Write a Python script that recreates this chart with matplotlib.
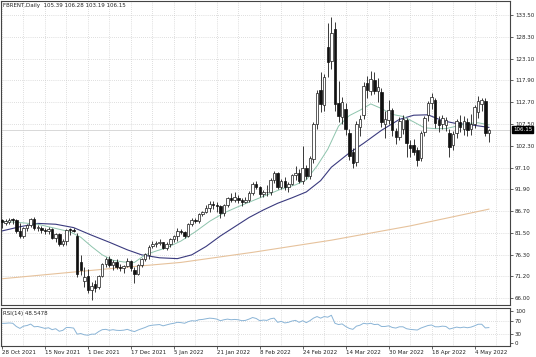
import numpy as np
import matplotlib
matplotlib.use("Agg")
import matplotlib.pyplot as plt
import matplotlib.transforms as mtransforms

# FBRENT daily bars, 28 Oct 2021 .. 10 May 2022
opens = [84.6, 84.0, 84.1, 84.7, 84.5, 81.9, 80.8, 82.8, 83.4, 84.8,
         82.6, 82.8, 82.2, 82.0, 82.4, 80.3, 81.2, 78.9, 79.7, 82.3,
         82.2, 80.8, 74.6, 70.0, 71.2, 67.8, 69.3, 68.6, 71.3, 74.0,
         75.2, 73.8, 74.6, 73.4, 73.2, 73.6, 74.8, 72.6, 71.8, 73.9,
         75.2, 76.3, 78.3, 78.9, 79.2, 79.3, 77.9, 78.9, 80.0, 80.8,
         82.0, 81.7, 80.9, 83.7, 84.7, 84.4, 86.1, 86.5, 87.5, 88.4,
         88.3, 87.9, 86.3, 88.2, 89.9, 89.3, 89.9, 89.4, 89.0, 89.4,
         91.0, 93.2, 92.6, 90.7, 91.4, 91.2, 94.2, 95.9, 92.6, 94.0,
         92.4, 93.1, 95.3, 95.9, 94.0, 97.0, 95.0, 99.2, 107.5, 115.5,
         112.0, 125.9, 122.6, 130.2, 112.4, 109.2, 111.0, 105.4, 100.8, 98.4,
         106.9, 109.6, 117.2, 115.4, 118.0, 115.4, 115.2, 107.4, 108.4, 110.8,
         105.8, 104.4, 106.2, 108.4, 102.6, 102.5, 101.3, 99.5, 105.5, 109.6,
         112.5, 113.3, 108.4, 107.4, 107.2, 105.4, 102.4, 105.4, 108.1, 106.4,
         108.1, 106.4, 107.6, 110.4, 112.2, 113.0, 105.39]
highs = [84.9, 84.8, 85.1, 85.0, 84.9, 83.9, 83.0, 83.7, 85.1, 85.3,
         83.3, 83.2, 82.8, 82.9, 82.6, 81.6, 81.5, 80.0, 82.5, 82.6,
         82.7, 81.5, 76.2, 73.5, 73.0, 69.8, 70.2, 71.5, 74.3, 75.8,
         76.0, 75.0, 75.2, 74.2, 73.9, 75.5, 75.0, 73.4, 74.1, 75.5,
         76.8, 78.6, 79.5, 79.6, 80.0, 79.4, 79.4, 80.4, 81.0, 82.8,
         82.5, 82.0, 83.8, 85.0, 85.0, 86.4, 86.7, 88.1, 89.2, 89.1,
         88.8, 88.1, 88.4, 90.1, 91.0, 91.2, 90.6, 89.9, 90.0, 91.6,
         93.6, 93.9, 92.8, 91.8, 92.9, 94.6, 96.4, 96.1, 94.5, 94.8,
         93.6, 95.6, 97.4, 96.8, 102.2, 97.7, 99.8, 108.0, 115.5, 119.9,
         119.4, 131.6, 133.0, 131.8, 117.8, 114.0, 112.6, 106.4, 101.8, 108.2,
         109.6, 117.6, 119.0, 120.2, 119.9, 118.5, 116.0, 110.6, 113.2, 111.4,
         106.6, 109.2, 109.6, 108.9, 103.6, 104.0, 102.0, 105.8, 109.4, 113.0,
         115.0, 113.8, 109.4, 109.6, 109.2, 106.4, 105.8, 108.8, 109.6, 109.4,
         109.0, 110.0, 112.0, 114.2, 113.8, 113.6, 106.28]
lows = [82.6, 83.3, 83.6, 83.6, 81.4, 80.3, 80.4, 82.0, 83.0, 82.3,
        82.0, 81.6, 81.2, 81.3, 80.0, 79.3, 78.3, 78.4, 78.6, 81.0,
        81.8, 71.0, 71.4, 68.6, 67.3, 65.5, 67.4, 68.2, 71.0, 73.5,
        73.4, 72.8, 73.0, 72.5, 72.0, 73.3, 72.5, 69.5, 71.5, 73.4,
        74.9, 75.4, 78.0, 78.2, 78.6, 77.6, 77.4, 78.2, 79.3, 79.7,
        81.2, 80.2, 80.6, 83.2, 83.9, 84.0, 85.5, 86.2, 86.6, 87.3,
        86.6, 85.1, 85.5, 87.8, 88.9, 89.0, 88.6, 87.9, 88.7, 88.8,
        90.6, 92.0, 90.0, 90.0, 90.4, 90.6, 93.4, 92.0, 92.1, 91.8,
        91.2, 92.9, 94.2, 93.5, 93.3, 94.4, 94.4, 98.2, 106.2, 110.4,
        110.6, 118.6, 120.6, 110.6, 108.0, 107.4, 104.8, 99.0, 97.0, 97.6,
        104.6, 108.6, 113.6, 114.4, 114.6, 112.8, 106.8, 104.2, 107.6, 104.6,
        102.8, 103.8, 105.2, 99.6, 99.6, 100.0, 97.6, 98.6, 104.6, 108.2,
        111.2, 106.6, 105.6, 106.2, 105.8, 99.6, 101.4, 104.2, 105.6, 105.0,
        104.6, 104.8, 106.6, 109.0, 110.6, 104.6, 103.19]
closes = [84.2, 84.4, 84.7, 84.6, 82.0, 80.7, 82.7, 83.4, 84.8, 82.6,
          82.9, 82.2, 82.0, 82.4, 80.3, 81.2, 78.9, 79.7, 82.3, 82.2,
          82.0, 71.8, 72.6, 70.9, 67.8, 68.8, 68.3, 71.2, 74.0, 75.2,
          73.8, 74.6, 73.4, 73.2, 73.6, 74.8, 73.2, 71.8, 73.9, 75.2,
          76.6, 78.2, 78.9, 79.2, 79.3, 77.9, 78.9, 80.0, 80.8, 82.0,
          81.7, 80.9, 83.7, 84.7, 84.4, 86.1, 86.5, 87.5, 88.4, 88.3,
          87.9, 86.3, 88.2, 89.9, 89.3, 90.0, 89.4, 89.0, 89.4, 91.0,
          93.2, 92.6, 90.7, 91.4, 91.2, 94.2, 95.9, 92.6, 94.0, 92.4,
          93.1, 95.3, 95.9, 94.0, 96.9, 95.0, 99.4, 107.5, 114.8, 112.2,
          118.7, 122.2, 129.2, 112.2, 109.4, 112.8, 106.2, 99.8, 98.3, 107.4,
          108.6, 116.6, 115.6, 118.2, 115.3, 116.4, 108.0, 108.6, 110.8, 106.1,
          104.3, 108.2, 108.8, 103.0, 101.8, 100.8, 98.9, 105.4, 109.0, 112.5,
          113.9, 107.7, 107.3, 108.9, 108.4, 102.0, 105.2, 108.3, 106.9, 108.3,
          106.0, 107.4, 111.6, 113.0, 113.2, 105.4, 106.15]

# RSI(14), one value per bar
rsi = [61.7, 62, 63, 62, 52, 46, 53, 55, 59.5, 51,
       52, 49, 46, 48, 42, 45, 37, 40, 49, 48.5,
       47, 28, 30, 26, 24.6, 28, 28, 36, 42, 43,
       40, 42, 40, 39.5, 40.5, 43, 39, 36, 41, 45,
       49, 54, 56, 57, 58, 54, 57, 60, 62, 65,
       64, 62, 67, 70, 69, 73, 74, 76, 78, 77,
       75, 70, 73, 75, 73, 74, 73, 70, 71, 75,
       80, 77, 70, 72, 71, 76, 78, 65, 68, 63,
       65, 69, 71, 65, 70, 64, 70, 78, 83, 78,
       83, 81, 87, 62, 58, 60, 52, 46, 43, 53,
       56, 62, 60, 62, 58, 59, 52, 52, 54, 49,
       47, 51, 51, 45, 43, 42, 40.9, 47, 51, 55,
       56.6, 51, 51, 53, 52, 44, 47, 50, 48, 50,
       48, 50, 54, 59, 59, 47.5, 48.5478]

# moving averages read at a few bars
ma_fast_idx = [0, 5, 10, 15, 19, 22, 25, 28, 31, 34, 37, 40, 43, 46, 50, 54, 58,
               62, 66, 70, 74, 78, 82, 85, 88, 91, 94, 97, 100, 103, 106, 109,
               112, 115, 118, 121, 124, 127, 130, 133, 136]
ma_fast = [84.3, 84.0, 83.6, 82.6, 81.8, 80.5, 78.3, 76.3, 75.0, 74.6, 74.5, 76.3,
           77.2, 78.0, 79.6, 81.8, 84.3, 86.3, 87.8, 89.2, 90.6, 92.0, 93.0, 94.2,
           97.5, 101.5, 107.0, 109.5, 110.8, 112.3, 111.2, 109.8, 109.3, 108.0,
           106.6, 106.4, 106.4, 107.0, 107.6, 107.8, 107.3]
ma_slow_idx = [0, 5, 10, 15, 20, 25, 30, 35, 39, 44, 49, 53, 57, 61, 65, 69, 73,
               77, 81, 85, 89, 92, 97, 101, 106, 111, 115, 119, 123, 127, 131, 136]
ma_slow = [82.0, 83.0, 83.8, 83.6, 82.8, 81.0, 79.3, 77.5, 76.3, 75.6, 75.4, 76.3,
           78.3, 80.8, 83.0, 85.2, 87.0, 88.6, 89.9, 91.3, 94.0, 97.2, 100.6, 102.9,
           106.0, 108.6, 109.6, 109.7, 108.3, 107.6, 107.3, 106.7]
ma_long_idx = [0, 30, 50, 70, 92, 114, 136]
ma_long = [70.6, 73.0, 74.5, 76.9, 79.8, 83.2, 87.2]

price_ticks = [133.50, 128.30, 123.10, 117.90, 112.70, 107.50, 102.30, 97.10,
               91.90, 86.70, 81.50, 76.30, 71.20, 66.00]
date_labels = ["28 Oct 2021", "15 Nov 2021", "1 Dec 2021", "17 Dec 2021",
               "5 Jan 2022", "21 Jan 2022", "8 Feb 2022", "24 Feb 2022",
               "14 Mar 2022", "30 Mar 2022", "18 Apr 2022", "4 May 2022"]
rsi_ticks = [100, 70, 30, 0]

o = np.array(opens)
h = np.array(highs)
l = np.array(lows)
c = np.array(closes)
x = np.arange(len(c))
up = c >= o

fs = 4
grid_kw = dict(color="#c0c0c0", lw=0.5, ls=(0, (1, 2)))
frame = "#444444"

fig = plt.figure(figsize=(5.36, 3.57), dpi=100)
ax = fig.add_axes([1 / 536, 52 / 357, 509 / 536, 304 / 357])
ax_rsi = fig.add_axes([1 / 536, 11 / 357, 509 / 536, 38 / 357], sharex=ax)

# grid
for gx in np.arange(0, 142, 6):
    ax.axvline(gx, zorder=0, **grid_kw)
    ax_rsi.axvline(gx, zorder=0, **grid_kw)
for gy in price_ticks:
    ax.axhline(gy, zorder=0, **grid_kw)
for gy in [70, 30]:
    ax_rsi.axhline(gy, zorder=0, **grid_kw)

# bid line
ax.axhline(closes[-1], color="#d2d2d2", lw=0.6, zorder=1)

# moving averages
ax.plot(ma_long_idx, ma_long, color="#e6c29c", lw=0.8, zorder=2)
ax.plot(ma_slow_idx, ma_slow, color="#3a3a7e", lw=0.8, zorder=2)
ax.plot(ma_fast_idx, ma_fast, color="#8ec4ad", lw=0.7, zorder=2)

# candles
ax.vlines(x, l, h, color="#1a1a1a", lw=0.6, zorder=3)
body = np.maximum(np.abs(c - o), 0.15)
ax.bar(x[up], body[up], bottom=o[up], width=0.7, color="white",
       edgecolor="#1a1a1a", linewidth=0.5, zorder=4)
ax.bar(x[~up], body[~up], bottom=c[~up], width=0.7, color="#111111",
       edgecolor="#111111", linewidth=0.5, zorder=4)

ax.set_xlim(-0.28, 141.9)
ax.set_ylim(64.34, 136.84)
ax.yaxis.tick_right()
ax.set_yticks(price_ticks)
ax.set_yticklabels([f"{v:.2f}" for v in price_ticks])
ax.tick_params(axis="y", length=2, width=0.5, pad=1.5, labelsize=fs,
               colors="#222222")
ax.tick_params(axis="x", length=0, labelbottom=False)

ax.text(0.004, 1 - 1.5 / 304, "FBRENT,Daily  105.39 106.28 103.19 106.15",
        transform=ax.transAxes, va="top", ha="left", fontsize=fs, color="#222222")

trans = mtransforms.blended_transform_factory(ax.transAxes, ax.transData)
ax.text(1.006, closes[-1], f"{closes[-1]:.2f}", transform=trans, ha="left",
        va="center", fontsize=fs, color="white", clip_on=False,
        bbox=dict(boxstyle="square,pad=0.2", fc="black", ec="black"))

# RSI panel
ax_rsi.plot(x, rsi, color="#8ab4d6", lw=0.7)
ax_rsi.set_ylim(-9, 109.7)
ax_rsi.yaxis.tick_right()
ax_rsi.set_yticks(rsi_ticks)
ax_rsi.set_yticklabels([str(v) for v in rsi_ticks])
ax_rsi.tick_params(axis="y", length=2, width=0.5, pad=1.5, labelsize=fs,
                   colors="#222222")
ax_rsi.set_xticks(np.arange(0, 12 * len(date_labels), 12))
ax_rsi.set_xticklabels(date_labels)
ax_rsi.tick_params(axis="x", length=2, width=0.5, pad=1.0, labelsize=fs,
                   colors="#222222")
plt.setp(ax_rsi.get_xticklabels(), ha="left")
ax_rsi.text(0.004, 0.93, f"RSI(14) {rsi[-1]:.4f}", transform=ax_rsi.transAxes,
            va="top", ha="left", fontsize=fs, color="#222222")

for a in (ax, ax_rsi):
    for s in a.spines.values():
        s.set_color(frame)
        s.set_linewidth(0.8)

fig.savefig("out.png", dpi=100)
